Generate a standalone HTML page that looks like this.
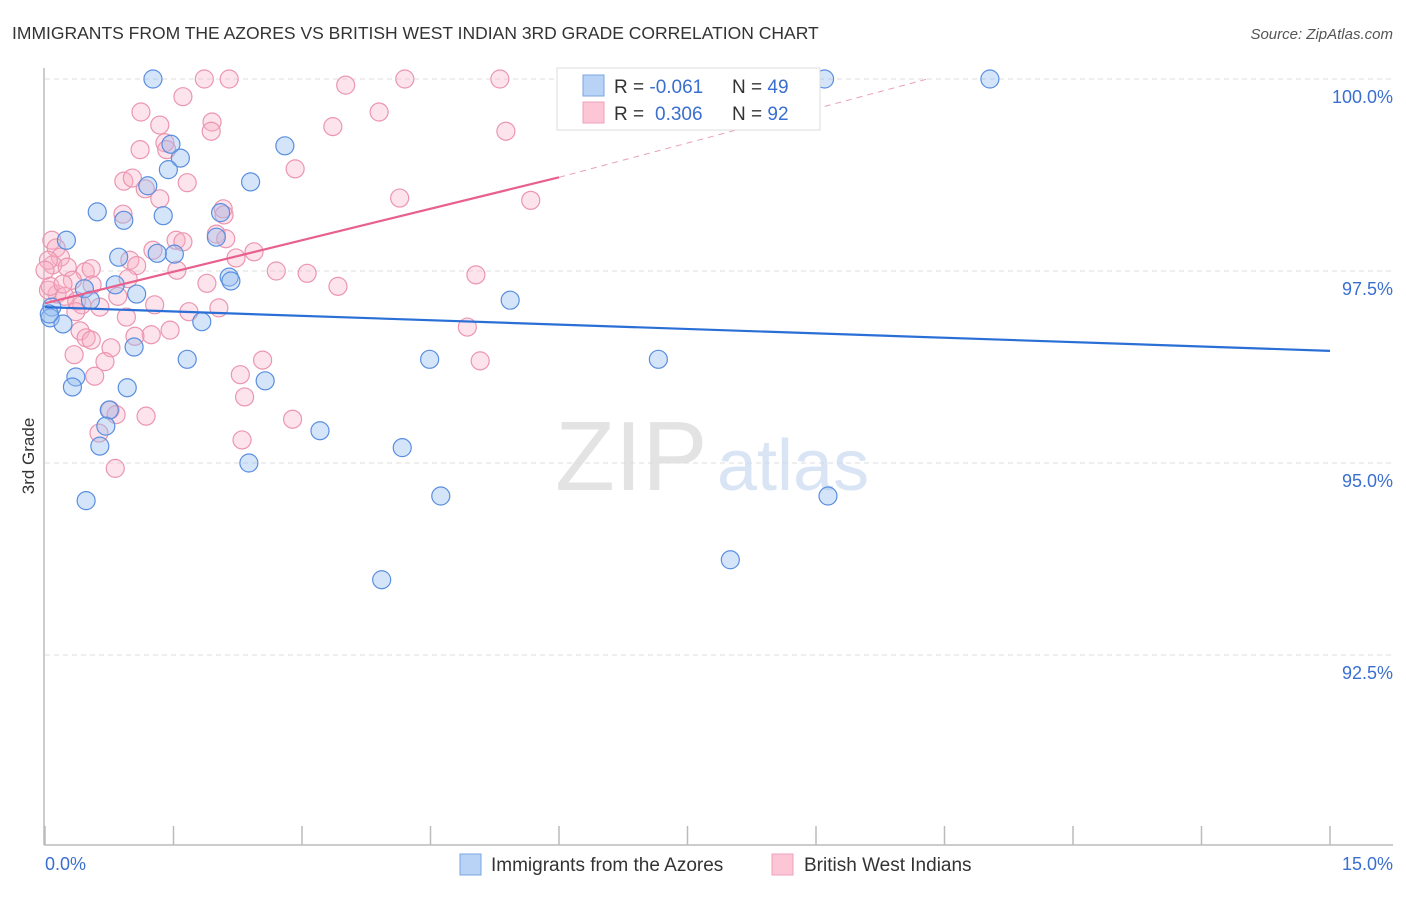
<!DOCTYPE html>
<html><head><meta charset="utf-8">
<style>
body{margin:0;background:#fff;font-family:"Liberation Sans",sans-serif;}
svg text{font-family:"Liberation Sans",sans-serif;}
</style></head>
<body>
<svg id="chart" width="1406" height="892" xmlns="http://www.w3.org/2000/svg">
<text x="12" y="39" font-size="17.5" fill="#333">IMMIGRANTS FROM THE AZORES VS BRITISH WEST INDIAN 3RD GRADE CORRELATION CHART</text>
<text x="1393" y="39" font-size="15" fill="#555" text-anchor="end" font-style="italic">Source: ZipAtlas.com</text>
<g id="grid"></g>
<text x="555" y="490" font-size="98" fill="#ddd" font-family="Liberation Serif" opacity="0.8">ZIP</text>
<text x="717" y="490" font-size="72" fill="#c9daf0" opacity="0.7">atlas</text>
<g id="axes"></g>
<g id="pts"></g>
<g id="trends"></g>
<text transform="translate(34,456) rotate(-90)" font-size="17" fill="#333" text-anchor="middle">3rd Grade</text>
<g>
<rect x="557" y="68" width="263" height="62" fill="#fff" stroke="#ddd"/>
<rect x="583" y="75" width="21" height="21" fill="#b8d3f5" stroke="#7aa6e0"/>
<rect x="583" y="102" width="21" height="21" fill="#fcc6d6" stroke="#eea0b8"/>
<text x="614" y="93" font-size="19" fill="#333">R = <tspan fill="#3a6fd0">-0.061</tspan><tspan x="732">N = </tspan><tspan fill="#3a6fd0">49</tspan></text>
<text x="614" y="120" font-size="19" fill="#333">R = <tspan x="655" fill="#3a6fd0">0.306</tspan><tspan x="732">N = </tspan><tspan fill="#3a6fd0">92</tspan></text>
</g>
<g>
<rect x="460" y="854" width="21" height="21" fill="#b8d3f5" stroke="#7aa6e0"/>
<text x="491" y="871" font-size="19" fill="#333">Immigrants from the Azores</text>
</g>
<g>
<rect x="772" y="854" width="21" height="21" fill="#fcc6d6" stroke="#eea0b8"/>
<text x="804" y="871" font-size="19" fill="#333">British West Indians</text>
</g>
</svg>
<script>
const yTicks=[100,97.5,95,92.5];
const yTickLabels=["100.0%","97.5%","95.0%","92.5%"];
const xTicks=[0,1.5,3,4.5,6,7.5,9,10.5,12,13.5,15];
const xEndLabels=["0.0%","15.0%"];
const blueX=[1.26,9.10,11.03,2.80,1.47,1.58,1.44,2.40,1.20,0.61,1.38,2.05,0.92,0.25,2.00,1.51,0.86,1.31,2.15,2.17,0.82,0.46,1.07,0.53,5.43,0.08,0.06,0.21,1.83,1.04,1.66,4.49,7.16,0.36,0.32,0.96,2.57,0.75,0.71,0.64,3.21,4.17,2.38,4.62,9.14,0.48,3.93,8.00,0.05];
const blueY=[100,100,100,99.13,99.15,98.97,98.82,98.66,98.61,98.27,98.22,98.26,98.16,97.90,97.94,97.72,97.68,97.73,97.42,97.37,97.32,97.27,97.20,97.12,97.12,97.03,96.89,96.81,96.84,96.51,96.35,96.35,96.35,96.12,95.99,95.98,96.07,95.69,95.48,95.22,95.42,95.20,95.00,94.57,94.57,94.51,93.48,93.74,96.94];
const pinkX=[1.86,2.15,3.51,4.20,5.31,1.61,1.12,3.90,1.34,1.95,3.36,5.38,1.94,1.11,1.40,1.42,2.92,0.92,1.02,1.66,1.17,1.34,4.14,5.67,0.91,2.08,2.09,0.08,0.13,0.18,0.09,0.26,0.47,0.54,0.99,1.07,1.26,1.53,1.61,2.00,2.11,1.54,2.23,2.44,2.70,3.06,3.42,5.03,0.32,0.14,0.04,0.55,0.23,0.37,0.64,0.85,0.97,1.28,1.68,2.03,1.89,0.95,1.46,1.24,0.41,0.48,0.54,0.77,1.05,4.93,0.34,0.70,2.54,5.08,2.28,0.58,2.33,0.76,0.83,1.18,2.89,0.63,2.30,0.82,0.04,0.06,0.21,0.0,0.43,0.36];
const pinkY=[100,100,99.92,100,100,99.77,99.57,99.57,99.40,99.44,99.38,99.32,99.32,99.08,99.17,99.08,98.83,98.67,98.71,98.65,98.57,98.44,98.45,98.42,98.24,98.31,98.23,97.90,97.80,97.68,97.58,97.55,97.49,97.53,97.64,97.57,97.77,97.90,97.88,97.98,97.92,97.51,97.67,97.75,97.50,97.47,97.30,97.45,97.38,97.20,97.25,97.32,97.17,97.11,97.03,97.17,97.40,97.06,96.97,97.02,97.34,96.90,96.73,96.67,96.72,96.63,96.60,96.50,96.65,96.77,96.41,96.32,96.34,96.33,96.15,96.13,95.86,95.69,95.63,95.61,95.57,95.39,95.30,94.93,97.64,97.30,97.33,97.51,97.06,96.97];
const blueTrend=[0,97.03,15,96.46];
const pinkTrend=[0,97.08,6,98.72,10.3,100];

const NS="http://www.w3.org/2000/svg";
function sx(v){return 45+v*(1330-45)/15;}
function sy(v){return 79+(100-v)*76.8;}
function mk(tag,attrs,parent){const e=document.createElementNS(NS,tag);for(const k in attrs)e.setAttribute(k,attrs[k]);parent.appendChild(e);return e;}
const grid=document.getElementById('grid'),axes=document.getElementById('axes'),pts=document.getElementById('pts'),tr=document.getElementById('trends');
yTicks.forEach((t,i)=>{
  const l=mk('line',{x1:45,x2:1393,y1:sy(t),y2:sy(t),stroke:'#ddd','stroke-dasharray':'5,4'},grid);
  
  
  const tx=mk('text',{x:1393,y:sy(t)+24,'font-size':18,fill:'#3a6fd0','text-anchor':'end'},axes);
  tx.textContent=yTickLabels[i];
  
  
});
const ax=mk('line',{x1:44,x2:1393,y1:845,y2:845,stroke:'#bbb','stroke-width':1.5},axes);


const ay=mk('line',{x1:44,x2:44,y1:68,y2:845,stroke:'#bbb','stroke-width':1.5},axes);


xTicks.forEach(t=>{
  const l=mk('line',{x1:sx(t),x2:sx(t),y1:826,y2:845,stroke:'#bbb','stroke-width':1.5},axes);
  
  
});
const xl0=mk('text',{x:45,y:870,'font-size':18,fill:'#3a6fd0'},axes);xl0.textContent=xEndLabels[0];


const xl1=mk('text',{x:1393,y:870,'font-size':18,fill:'#3a6fd0','text-anchor':'end'},axes);xl1.textContent=xEndLabels[1];


pinkX.forEach((x,i)=>{
  const c=mk('circle',{cx:sx(x),cy:sy(pinkY[i]),r:9,fill:'rgba(248,175,198,0.35)',stroke:'#eb96b0','stroke-width':1.2},pts);
  
  
});
blueX.forEach((x,i)=>{
  const c=mk('circle',{cx:sx(x),cy:sy(blueY[i]),r:9,fill:'rgba(150,190,240,0.4)',stroke:'#5a8ee0','stroke-width':1.2},pts);
  
  
});
const bl=mk('line',{x1:sx(blueTrend[0]),y1:sy(blueTrend[1]),x2:sx(blueTrend[2]),y2:sy(blueTrend[3]),stroke:'#2a6fd6','stroke-width':2.2},tr);


const pl=mk('line',{x1:sx(pinkTrend[0]),y1:sy(pinkTrend[1]),x2:sx(pinkTrend[2]),y2:sy(pinkTrend[3]),stroke:'#e8608e','stroke-width':2.2},tr);


const pd=mk('line',{x1:sx(pinkTrend[2]),y1:sy(pinkTrend[3]),x2:sx(pinkTrend[4]),y2:sy(pinkTrend[5]),stroke:'#e8a0b8','stroke-width':1,'stroke-dasharray':'6,5'},tr);


</script>
</body></html>
